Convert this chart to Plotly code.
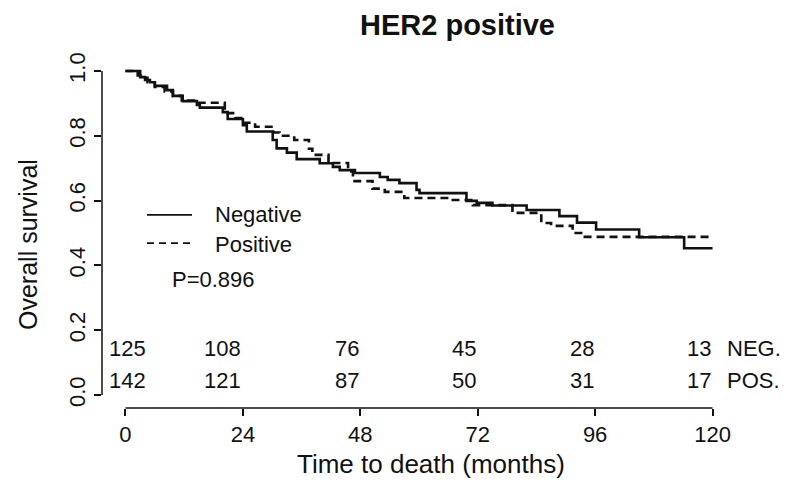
import plotly.graph_objects as go

# ---- data ----
neg_times = [0, 3.0, 4.0, 5.0, 6.0, 8.5, 9.7, 11.7, 14.6, 15.2, 19.9, 20.9, 24.0, 24.8,
             30.1, 30.9, 33.0, 35.0, 39.7, 42.4, 43.8, 46.9, 52.0, 53.6, 56.0, 59.5,
             60.1, 69.7, 71.8, 75.0, 82.0, 88.7, 92.3, 96.2, 105.0, 114.2, 120]
neg_surv = [1.0, 0.981, 0.972, 0.965, 0.954, 0.941, 0.923, 0.907, 0.895, 0.887, 0.873,
            0.852, 0.833, 0.813, 0.787, 0.761, 0.748, 0.728, 0.715, 0.704, 0.694, 0.685,
            0.673, 0.664, 0.654, 0.633, 0.623, 0.599, 0.593, 0.585, 0.571, 0.552, 0.532,
            0.511, 0.487, 0.453, 0.453]

pos_times = [0, 2.5, 3.5, 4.5, 6.0, 8.0, 9.7, 11.5, 14.6, 20.3, 22.5, 24.2, 26.5, 30.3,
             31.5, 34.5, 37.5, 38.2, 41.5, 45.5, 46.5, 50.5, 53.0, 57.0, 66.3, 71.0,
             79.1, 85.0, 87.0, 91.4, 93.5, 120]
pos_surv = [1.0, 0.986, 0.979, 0.965, 0.951, 0.937, 0.923, 0.909, 0.902, 0.87, 0.855,
            0.84, 0.828, 0.81, 0.80, 0.787, 0.76, 0.741, 0.716, 0.69, 0.66, 0.637, 0.627,
            0.608, 0.602, 0.586, 0.562, 0.531, 0.522, 0.50, 0.488, 0.488]

risk_times = [0, 24, 48, 72, 96, 120]
neg_risk = [125, 108, 76, 45, 28, 13]
pos_risk = [142, 121, 87, 50, 31, 17]

x_ticks = [0, 24, 48, 72, 96, 120]
y_ticks = [0.0, 0.2, 0.4, 0.6, 0.8, 1.0]

title_text = "HER2 positive"
x_title = "Time to death (months)"
y_title = "Overall survival"
series_names = ["Negative", "Positive"]
risk_labels = ["NEG.", "POS."]
p_text = "P=0.896"

FONT = "Liberation Sans, Arial, Helvetica, sans-serif"
BLACK = "#111111"

fig = go.Figure()
fig.add_trace(go.Scatter(x=neg_times, y=neg_surv, mode="lines", line_shape="hv",
                         name=series_names[0], line=dict(color=BLACK, width=2.6),
                         showlegend=False))
fig.add_trace(go.Scatter(x=pos_times, y=pos_surv, mode="lines", line_shape="hv",
                         name=series_names[1],
                         line=dict(color=BLACK, width=2.6, dash="8px,5px"),
                         showlegend=False))

shapes = []
# R-style axis lines spanning first to last tick
shapes.append(dict(type="line", xref="paper", yref="y", x0=0, x1=0,
                   y0=y_ticks[0], y1=y_ticks[-1], line=dict(color=BLACK, width=1.5)))
shapes.append(dict(type="line", xref="x", yref="paper", x0=x_ticks[0], x1=x_ticks[-1],
                   y0=0, y1=0, line=dict(color=BLACK, width=1.5)))
# legend keys
shapes.append(dict(type="line", xref="x", yref="y", x0=4.4, x1=13.6, y0=0.556, y1=0.556,
                   line=dict(color=BLACK, width=1.8)))
shapes.append(dict(type="line", xref="x", yref="y", x0=4.4, x1=13.6, y0=0.469, y1=0.469,
                   line=dict(color=BLACK, width=1.8, dash="7px,5px")))

annots = []
for i, t in enumerate(risk_times):
    if t == 0:
        xa, xx = "left", -3.7
    else:
        xa, xx = "right", t + 0.1
    annots.append(dict(x=xx, y=0.145, xref="x", yref="y", text=str(neg_risk[i]),
                       showarrow=False, xanchor=xa, yanchor="middle",
                       font=dict(size=22, color=BLACK, family=FONT)))
    annots.append(dict(x=xx, y=0.046, xref="x", yref="y", text=str(pos_risk[i]),
                       showarrow=False, xanchor=xa, yanchor="middle",
                       font=dict(size=22, color=BLACK, family=FONT)))
annots.append(dict(x=122.6, y=0.145, xref="x", yref="y", text=risk_labels[0],
                   showarrow=False, xanchor="left", yanchor="middle",
                   font=dict(size=22, color=BLACK, family=FONT)))
annots.append(dict(x=122.6, y=0.046, xref="x", yref="y", text=risk_labels[1],
                   showarrow=False, xanchor="left", yanchor="middle",
                   font=dict(size=22, color=BLACK, family=FONT)))
# legend text and p value
annots.append(dict(x=17.9, y=0.556, xref="x", yref="y", text=series_names[0],
                   showarrow=False, xanchor="left", yanchor="middle",
                   font=dict(size=22, color=BLACK, family=FONT)))
annots.append(dict(x=17.9, y=0.466, xref="x", yref="y", text=series_names[1],
                   showarrow=False, xanchor="left", yanchor="middle",
                   font=dict(size=22, color=BLACK, family=FONT)))
annots.append(dict(x=9.1, y=0.356, xref="x", yref="y", text=p_text,
                   showarrow=False, xanchor="left", yanchor="middle",
                   font=dict(size=22, color=BLACK, family=FONT)))
# titles
annots.append(dict(x=0.561, y=1.094, xref="paper", yref="paper", text="<b>" + title_text + "</b>",
                   showarrow=False, xanchor="center", yanchor="middle",
                   font=dict(size=29, color=BLACK, family=FONT)))
annots.append(dict(x=0.519, y=-0.16, xref="paper", yref="paper", text=x_title,
                   showarrow=False, xanchor="center", yanchor="middle",
                   font=dict(size=26, color=BLACK, family=FONT)))
annots.append(dict(x=(28 - 102) / 634, y=(408 - 245) / 350, xref="paper", yref="paper",
                   text=y_title, textangle=-90,
                   showarrow=False, xanchor="center", yanchor="middle",
                   font=dict(size=25, color=BLACK, family=FONT)))

fig.update_layout(
    width=788, height=489,
    margin=dict(l=102, r=52, t=58, b=81, pad=0),
    paper_bgcolor="white", plot_bgcolor="white",
    font=dict(family=FONT, color=BLACK),
    shapes=shapes, annotations=annots, showlegend=False,
    xaxis=dict(range=[-4.8, 124.8], tickvals=x_ticks, ticktext=[str(v) for v in x_ticks],
               ticks="outside", ticklen=7, tickwidth=1.5, tickcolor=BLACK,
               showline=False, showgrid=False, zeroline=False,
               tickfont=dict(size=22, color=BLACK, family=FONT)),
    yaxis=dict(range=[-0.04, 1.04], tickvals=y_ticks, ticktext=[f"{v:.1f}" for v in y_ticks],
               ticks="outside", ticklen=7, tickwidth=1.5, tickcolor=BLACK, tickangle=-90,
               showline=False, showgrid=False, zeroline=False,
               tickfont=dict(size=22, color=BLACK, family=FONT)),
)

fig.write_html("out.html")
